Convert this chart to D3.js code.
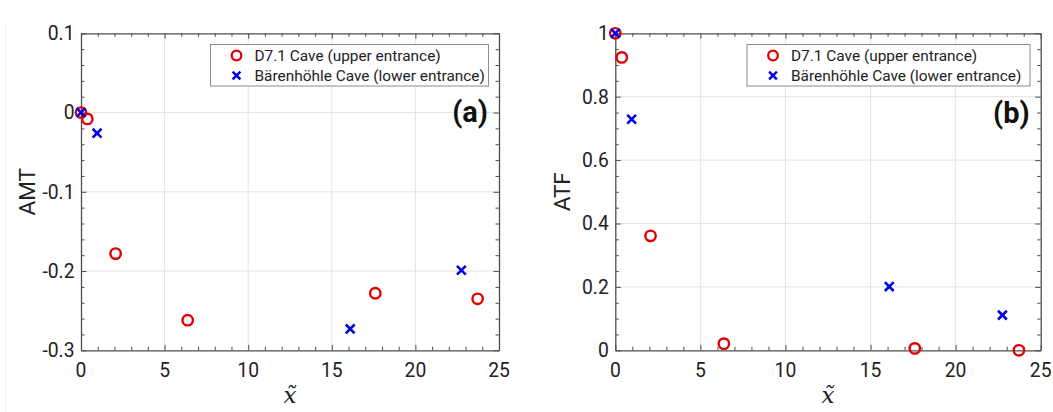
<!DOCTYPE html>
<html>
<head>
<meta charset="utf-8">
<script src="https://cdn.jsdelivr.net/npm/d3@7"></script>
<style>
  body { margin: 0; background: #fff; }
  svg { display: block; font-family: Roboto, "Noto Sans", sans-serif; }
  .grid line { stroke: #e3e3e3; stroke-width: 1; }
  .tick-label { fill: #222; font-size: 19.3px; }
  .axis-label { fill: #222; font-size: 22.5px; }
  .leg-text { fill: #222; font-size: 15.4px; }
  .panel-tag { fill: #111; font-size: 29px; font-weight: bold; }
</style>
</head>
<body>
<svg id="chart" width="1053" height="412"></svg>
<script>
// values
var x_d71 = [0, 0.38, 2.07, 6.38, 17.6, 23.72];
var amt_d71 = [0, -0.008, -0.178, -0.262, -0.228, -0.235];
var atf_d71 = [1, 0.924, 0.361, 0.021, 0.006, 0.0];

var x_baer = [0, 0.96, 16.1, 22.75];
var amt_baer = [0, -0.026, -0.273, -0.199];
var atf_baer = [1, 0.729, 0.201, 0.111];

var x_ticks = [0, 5, 10, 15, 20, 25];
var amt_ticks = [0.1, 0, -0.1, -0.2, -0.3];
var atf_ticks = [0, 0.2, 0.4, 0.6, 0.8, 1];

var legend_labels = ['D7.1 Cave (upper entrance)', 'Bärenhöhle Cave (lower entrance)'];

var svg = d3.select('#chart');

// faint edge of the pasted figure
svg.append('line').attr('x1', 5.5).attr('x2', 5.5).attr('y1', 24).attr('y2', 412)
  .attr('stroke', '#f0f0f0').attr('stroke-width', 1);

function zip(xs, ys) {
  return xs.map(function(x, i) { return {x: x, y: ys[i]}; });
}

function draw_panel(p) {
  var g = svg.append('g');
  var x = d3.scaleLinear().domain([0, 25]).range([p.left, p.right]);
  var y = d3.scaleLinear().domain(p.ydom).range([p.bottom, p.top]);

  // grid
  var grid = g.append('g').attr('class', 'grid');
  grid.selectAll('line.vx').data(x_ticks.slice(1, -1)).enter().append('line')
    .attr('x1', function(d) { return x(d); }).attr('x2', function(d) { return x(d); })
    .attr('y1', p.top).attr('y2', p.bottom);
  grid.selectAll('line.hy').data(p.yticks.filter(function(d) { return d != p.ydom[0] && d != p.ydom[1]; }))
    .enter().append('line')
    .attr('x1', p.left).attr('x2', p.right)
    .attr('y1', function(d) { return y(d); }).attr('y2', function(d) { return y(d); });

  // axes with inward ticks on all sides
  var axis_col = '#4d4d4d';
  var bottom = g.append('g').attr('transform', 'translate(0,' + p.bottom + ')')
    .call(d3.axisBottom(x).tickValues(d3.range(0, 26, 1)).tickSizeInner(-3.5).tickSizeOuter(0).tickFormat(''));
  var top = g.append('g').attr('transform', 'translate(0,' + p.top + ')')
    .call(d3.axisTop(x).tickValues(d3.range(0, 26, 1)).tickSizeInner(-3.5).tickSizeOuter(0).tickFormat(''));
  var minor_y = d3.range(p.ydom[0], p.ydom[1] + p.ystep / 2, p.ystep);
  var left = g.append('g').attr('transform', 'translate(' + p.left + ',0)')
    .call(d3.axisLeft(y).tickValues(minor_y).tickSizeInner(-3.5).tickSizeOuter(0).tickFormat(''));
  var right = g.append('g').attr('transform', 'translate(' + p.right + ',0)')
    .call(d3.axisRight(y).tickValues(minor_y).tickSizeInner(-3.5).tickSizeOuter(0).tickFormat(''));
  [bottom, top, left, right].forEach(function(a) {
    a.selectAll('path').attr('stroke', axis_col).attr('stroke-width', 1.3);
    a.selectAll('line').attr('stroke', axis_col).attr('stroke-width', 1);
  });
  // major ticks a bit longer
  [[bottom, 1], [top, -1]].forEach(function(pair) {
    pair[0].selectAll('.tick').filter(function(d) { return d % 5 == 0; }).select('line').attr('y2', -5.5 * pair[1]);
  });
  [[left, 1], [right, -1]].forEach(function(pair) {
    pair[0].selectAll('.tick').filter(function(d) {
      return p.yticks.some(function(t) { return Math.abs(t - d) < 1e-6; });
    }).select('line').attr('x2', 5.5 * pair[1]);
  });

  // tick labels
  g.selectAll('text.xt').data(x_ticks).enter().append('text')
    .attr('class', 'tick-label')
    .attr('x', function(d) { return x(d); })
    .attr('y', p.bottom + 27)
    .attr('text-anchor', 'middle')
    .text(function(d) { return d; });
  g.selectAll('text.yt').data(p.yticks).enter().append('text')
    .attr('class', 'tick-label')
    .attr('x', p.left - 6.5)
    .attr('y', function(d) { return y(d); })
    .attr('dy', '0.36em')
    .attr('text-anchor', 'end')
    .text(function(d) { return d == 0 ? '0' : String(d); });

  // axis labels
  g.append('text').attr('class', 'axis-label')
    .attr('transform', 'translate(' + p.ylab_x + ',' + ((p.top + p.bottom) / 2) + ') rotate(-90)')
    .attr('text-anchor', 'middle')
    .text(p.ylabel);
  g.append('text')
    .attr('x', (p.left + p.right) / 2)
    .attr('y', 403)
    .attr('text-anchor', 'middle')
    .style('font-family', '"DejaVu Serif", serif')
    .style('font-style', 'italic')
    .style('font-size', '23px')
    .attr('fill', '#222')
    .text('x\u0303');

  // points
  var circ = zip(x_d71, p.yd71);
  g.selectAll('circle.d71').data(circ).enter().append('circle')
    .attr('cx', function(d) { return x(d.x); })
    .attr('cy', function(d) { return y(d.y); })
    .attr('r', 5.2)
    .attr('fill', 'none')
    .attr('stroke', '#e00000')
    .attr('stroke-width', 2.4);

  var cross = zip(x_baer, p.ybaer);
  var s = 4.4;
  g.selectAll('path.baer').data(cross).enter().append('path')
    .attr('d', function(d) {
      var cx = x(d.x), cy = y(d.y);
      return 'M' + (cx - s) + ',' + (cy - s) + 'L' + (cx + s) + ',' + (cy + s) +
             'M' + (cx - s) + ',' + (cy + s) + 'L' + (cx + s) + ',' + (cy - s);
    })
    .attr('stroke', '#0000e6')
    .attr('stroke-width', 2.6);

  // legend
  var lg = g.append('g');
  lg.append('rect')
    .attr('x', p.leg_x).attr('y', 44.5)
    .attr('width', p.leg_w).attr('height', 41.5)
    .attr('fill', '#fff').attr('stroke', '#8c8c8c').attr('stroke-width', 1);
  lg.append('circle').attr('cx', p.leg_x + 26).attr('cy', 55.5).attr('r', 4.8)
    .attr('fill', 'none').attr('stroke', '#e00000').attr('stroke-width', 2.3);
  var lx = p.leg_x + 26, ly = 75.5, ls = 3.9;
  lg.append('path')
    .attr('d', 'M' + (lx - ls) + ',' + (ly - ls) + 'L' + (lx + ls) + ',' + (ly + ls) +
               'M' + (lx - ls) + ',' + (ly + ls) + 'L' + (lx + ls) + ',' + (ly - ls))
    .attr('stroke', '#0000e6').attr('stroke-width', 2.5);
  lg.selectAll('text').data(legend_labels).enter().append('text')
    .attr('class', 'leg-text')
    .attr('x', p.leg_x + 44)
    .attr('y', function(d, i) { return 60.5 + i * 20; })
    .text(function(d) { return d; });

  g.append('text').attr('class', 'panel-tag')
    .attr('x', p.right - 11)
    .attr('y', p.tag_y)
    .attr('text-anchor', 'end')
    .text(p.tag);
}

draw_panel({
  left: 81, right: 499, top: 33.3, bottom: 350.3,
  ydom: [-0.3, 0.1], yticks: amt_ticks, ystep: 0.02,
  yd71: amt_d71, ybaer: amt_baer,
  ylabel: 'AMT', ylab_x: 35,
  leg_x: 210.5, leg_w: 278,
  tag: '(a)', tag_y: 121.5
});

draw_panel({
  left: 615.3, right: 1040.7, top: 33.3, bottom: 350.3,
  ydom: [0, 1], yticks: atf_ticks, ystep: 0.05,
  yd71: atf_d71, ybaer: atf_baer,
  ylabel: 'ATF', ylab_x: 570,
  leg_x: 747, leg_w: 283,
  tag: '(b)', tag_y: 122.5
});
</script>
</body>
</html>
